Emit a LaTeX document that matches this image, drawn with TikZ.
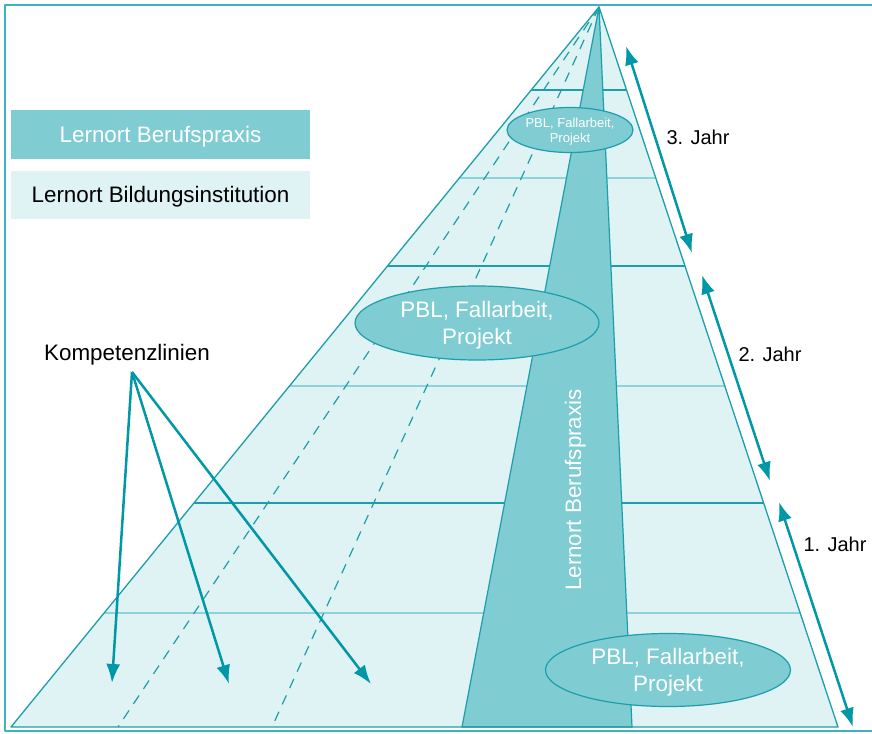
\documentclass[tikz,border=0pt]{standalone}
\usepackage{fontspec}
\setmainfont{Liberation Sans}
\usetikzlibrary{arrows.meta,shapes.geometric}

\definecolor{petrol}{HTML}{0097A6}
\definecolor{randlinie}{HTML}{1C9FAB}
\definecolor{rahmenfarbe}{HTML}{3DB3BE}
\definecolor{praxisfill}{HTML}{7FCCD3}
\definecolor{schulfill}{HTML}{DFF2F4}
\definecolor{gitterhell}{HTML}{8ED3D9}

\tikzset{
  grosstext/.style={font=\fontsize{22.4}{27.5}\selectfont, text depth=0pt},
  jahrtext/.style={font=\fontsize{20}{24}\selectfont, anchor=west},
  kleintext/.style={font=\fontsize{13}{15}\selectfont, text depth=0pt},
  methode/.style={ellipse, draw=randlinie, line width=1.2pt, fill=praxisfill,
    text=white, align=center, inner sep=0pt},
  legende/.style={rectangle, minimum width=299pt, minimum height=48pt,
    inner sep=0pt, grosstext},
  pfeil/.style={draw=petrol, line width=2.5pt},
  spitzkopf/.tip={Latex[length=19pt,width=14pt]},
}

\begin{document}
\begin{tikzpicture}[x=1pt,y=-1pt,line join=round]
  \useasboundingbox (0,0) rectangle (872,733);
  % rahmen, rechts offen
  \draw[rahmenfarbe, line width=1.5pt] (5,5) rectangle (900,731);

  % pyramide
  \coordinate (spitze) at (599,7);
  \coordinate (links) at (11,727);
  \coordinate (rechts) at (838,727);
  \fill[schulfill] (spitze) -- (links) -- (rechts) -- cycle;
  \begin{scope}
    \clip (spitze) -- (links) -- (rechts) -- cycle;
    \foreach \y in {178,386,613}
      \draw[gitterhell, line width=1.5pt] (0,\y) -- (872,\y);
    \foreach \y in {90,266,503}
      \draw[randlinie, line width=1.3pt] (0,\y) -- (872,\y);
  \end{scope}
  \foreach \x in {118,272}
    \draw[randlinie, line width=1.2pt, dash pattern=on 10pt off 8pt] (spitze) -- (\x,727);

  % streifen lernort berufspraxis
  \filldraw[fill=praxisfill, draw=randlinie, line width=1.2pt]
    (spitze) -- (462,727) -- (632,727) -- cycle;
  \draw[randlinie, line width=1.3pt] (spitze) -- (links) -- (rechts) -- cycle;
  \node[rotate=90, text=white, grosstext] (praxis) at (573,490) {Lernort Berufspraxis};

  % methoden
  \node[methode, kleintext, minimum width=126pt, minimum height=45pt] (pbl3) at (570,130)
    {PBL, Fallarbeit,\\Projekt};
  \node[methode, grosstext, minimum width=244pt, minimum height=74pt] (pbl2) at (477,323)
    {PBL, Fallarbeit,\\Projekt};
  \node[methode, grosstext, minimum width=245pt, minimum height=73pt] (pbl1) at (668,670)
    {PBL, Fallarbeit,\\Projekt};

  % legende
  \node[legende, fill=praxisfill, text=white] (lpraxis) at (160.5,134.5) {Lernort Berufspraxis};
  \node[legende, fill=schulfill] (lschule) at (160.5,194.5) {Lernort Bildungsinstitution};

  % kompetenzlinien
  \node[grosstext] (komp) at (127,352) {Kompetenzlinien};
  \coordinate (kompfuss) at (132,372);
  \coordinate (k1) at (112,683);
  \coordinate (k2) at (229,684);
  \coordinate (k3) at (371,684);
  \foreach \k in {k1,k2,k3}
    \draw[pfeil, -spitzkopf] (kompfuss) -- (\k);

  % jahre
  \coordinate (j3o) at (626,46);
  \coordinate (j3u) at (692,253);
  \coordinate (j2o) at (702,275);
  \coordinate (j2u) at (770,481);
  \coordinate (j1o) at (779,502);
  \coordinate (j1u) at (853,727);
  \draw[pfeil, spitzkopf-spitzkopf] (j3o) -- (j3u);
  \draw[pfeil, spitzkopf-spitzkopf] (j2o) -- (j2u);
  \draw[pfeil, spitzkopf-spitzkopf] (j1o) -- (j1u);
  \node[jahrtext] (jahr3) at (663,137) {3. Jahr};
  \node[jahrtext] (jahr2) at (735,354) {2. Jahr};
  \node[jahrtext] (jahr1) at (800,544) {1. Jahr};
\end{tikzpicture}
\end{document}
